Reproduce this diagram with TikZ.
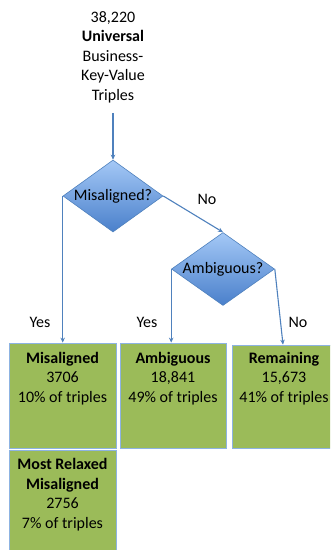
\documentclass[tikz,border=0pt]{standalone}
\usepackage{fontspec}
\setmainfont{Carlito}
\usetikzlibrary{shapes.geometric,arrows.meta}
\definecolor{linkblue}{HTML}{4F81BD}
\definecolor{diatop}{HTML}{A4C8F6}
\definecolor{diabot}{HTML}{4A80CB}
\definecolor{boxgreen}{HTML}{9BBB59}
\definecolor{boxedge}{HTML}{8DB3E2}
\begin{document}
\begin{tikzpicture}[x=1pt,y=-1pt,
  txt/.style={font=\fontsize{16}{19.5}\selectfont, inner sep=0pt, align=center},
  decision/.style={diamond, draw=linkblue, line width=0.6pt,
    top color=diatop, bottom color=diabot, inner sep=0pt},
  outcome/.style={rectangle, draw=boxedge, fill=boxgreen, line width=0.8pt,
    minimum width=107pt, minimum height=105pt, inner sep=0pt},
  arr/.style={draw=linkblue, line width=1.1pt, -{Stealth[length=5pt,width=4.5pt]}}]
\useasboundingbox (0,0) rectangle (330,550);
\clip (0,0) rectangle (330,550);

% source population
\node[txt, anchor=north] (src) at (113,11)
  {38,220\\\textbf{Universal}\\Business-\\Key-Value\\Triples};

% decisions
\node[decision, minimum width=100pt, minimum height=72pt] (d1) at (113,196) {};
\node[txt] (d1t) at (d1.center) {Misaligned?};
\node[decision, minimum width=103pt, minimum height=73pt] (d2) at (223,269) {};
\node[txt] (d2t) at (d2.center) {Ambiguous?};

% outcome boxes
\node[outcome] (mis) at (62.5,395.5) {};
\node[outcome, minimum width=106pt] (amb) at (173,395.5) {};
\node[outcome, minimum width=104pt, minimum height=103pt] (rem) at (284,396.5) {};
\node[outcome] (rel) at (62.5,503) {};

\node[txt, anchor=north] (mist) at ([yshift=-9pt]mis.north)
  {\textbf{Misaligned}\\3706\\10\% of triples};
\node[txt, anchor=north] (ambt) at ([yshift=-9pt]amb.north)
  {\textbf{Ambiguous}\\18,841\\49\% of triples};
\node[txt, anchor=north] (remt) at ([yshift=-7pt]rem.north)
  {\textbf{Remaining}\\15,673\\41\% of triples};
\node[txt, anchor=north] (relt) at ([yshift=-8pt]rel.north)
  {\textbf{Most Relaxed}\\\textbf{Misaligned}\\2756\\7\% of triples};

% connectors
\draw[arr] ([yshift=-10pt]src.south) -- (d1.north);
\draw[arr] (d1.west) -- (d1.west |- mis.north);
\draw[arr] (d1.east) -- (d2.north);
\draw[arr] (d2.west) -- (d2.west |- amb.north);
\draw[arr] (d2.east) -- ([xshift=-1pt]rem.north);

% branch labels
\node[txt] (no1) at (207,199) {No};
\node[txt] (yes1) at (40,322) {Yes};
\node[txt] (yes2) at (147,322) {Yes};
\node[txt] (no2) at (298,322) {No};
\end{tikzpicture}
\end{document}
